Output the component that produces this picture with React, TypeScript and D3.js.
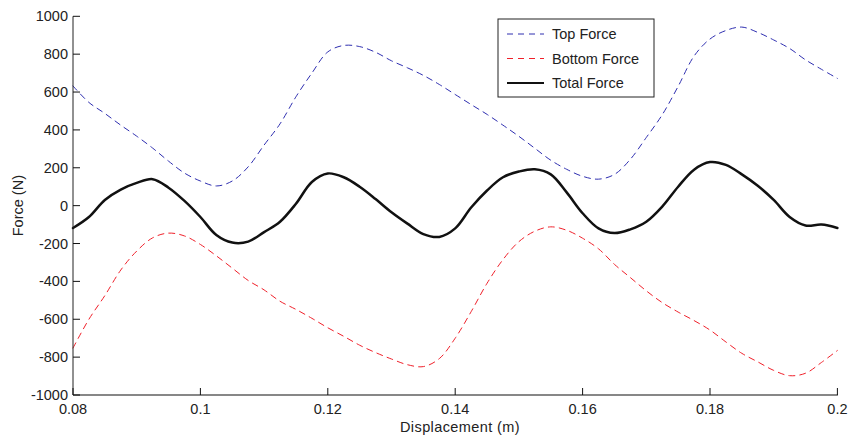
import React from "react";
import * as d3 from "d3";

const displacement = [
  0.08, 0.0825, 0.085, 0.0875, 0.09, 0.0925, 0.095, 0.0975, 0.1, 0.1025, 0.105, 0.1075,
  0.11, 0.1125, 0.115, 0.1175, 0.12, 0.1225, 0.125, 0.1275, 0.13, 0.1325, 0.135, 0.1375,
  0.14, 0.1425, 0.145, 0.1475, 0.15, 0.1525, 0.155, 0.1575, 0.16, 0.1625, 0.165, 0.1675,
  0.17, 0.1725, 0.175, 0.1775, 0.18, 0.1825, 0.185, 0.1875, 0.19, 0.1925, 0.195, 0.1975, 0.2,
];

const topForce = [
  632, 545, 487, 425, 367, 304, 235, 172, 130, 104, 130, 205,
  320, 432, 575, 700, 812, 846, 840, 810, 765, 728, 688, 640,
  587, 534, 482, 425, 366, 303, 240, 192, 155, 140, 165, 245,
  360, 480, 630, 790, 880, 925, 943, 915, 875, 830, 770, 720, 672,
];

const bottomForce = [
  -752, -600, -475, -340, -240, -170, -145, -160, -205, -265, -330, -395,
  -445, -505, -548, -595, -645, -690, -737, -776, -810, -840, -850, -808,
  -700, -560, -410, -285, -190, -135, -112, -130, -172, -228, -310, -380,
  -450, -512, -562, -607, -657, -720, -780, -825, -870, -898, -885, -828, -765,
];

const totalForce = [
  -118, -60, 30, 85, 120, 140, 95, 25, -60, -155, -195, -190,
  -140, -85, 10, 125, 170, 150, 100, 35, -35, -95, -150, -165,
  -120, -10, 80, 150, 180, 192, 165, 70, -40, -120, -145, -125,
  -85, -5, 100, 190, 230, 215, 165, 105, 30, -60, -105, -100, -118,
];

const xTicks = [0.08, 0.1, 0.12, 0.14, 0.16, 0.18, 0.2];
const yTicks = [-1000, -800, -600, -400, -200, 0, 200, 400, 600, 800, 1000];
const seriesNames = ["Top Force", "Bottom Force", "Total Force"];

export default function App() {
  const W = 851, H = 435;
  const left = 73, right = 837.4, top = 16.3, bottom = 395;
  const x = d3.scaleLinear().domain([0.08, 0.2]).range([left, right]);
  const y = d3.scaleLinear().domain([-1000, 1000]).range([bottom, top]);
  const line = (vals: number[]) =>
    d3.line<number>()
      .x((_, i) => x(displacement[i]))
      .y((v) => y(v))
      .curve(d3.curveCatmullRom.alpha(0.5))(vals) || "";

  const font = "'Liberation Sans', Arial, Helvetica, sans-serif";
  const fs = 14.5;
  const styles = [
    { color: "#2e2eb0", width: 1, dash: "6,5" },
    { color: "#f0202a", width: 1, dash: "6,5" },
    { color: "#111", width: 2.5, dash: undefined as string | undefined },
  ];
  const data = [topForce, bottomForce, totalForce];
  const legX = 498, legY = 19, legW = 156, legH = 78;

  return (
    <svg width={W} height={H} style={{ position: "absolute", left: 0, top: 0, background: "#fff" }} fontFamily={font}>
      <rect x={0} y={0} width={W} height={H} fill="#fff" />
      {data.map((vals, i) => (
        <path key={i} d={line(vals)} fill="none" stroke={styles[i].color} strokeWidth={styles[i].width}
          strokeDasharray={styles[i].dash} strokeLinejoin="round" strokeLinecap="round" />
      ))}
      <line x1={left} x2={left} y1={top} y2={bottom} stroke="#222" strokeWidth={1} />
      <line x1={left} x2={right + 0.5} y1={bottom} y2={bottom} stroke="#111" strokeWidth={1.2} />
      {xTicks.map((t) => (
        <g key={t}>
          <line x1={x(t)} x2={x(t)} y1={bottom} y2={bottom - 7} stroke="#111" strokeWidth={1} />
          <text x={x(t)} y={413.5} textAnchor="middle" fontSize={fs} fill="#222">{String(+t.toFixed(2))}</text>
        </g>
      ))}
      {yTicks.map((t) => (
        <g key={t}>
          <line x1={left} x2={left + 7} y1={y(t)} y2={y(t)} stroke="#111" strokeWidth={1} />
          <text x={68} y={y(t) + 5} textAnchor="end" fontSize={fs} fill="#222">{String(t)}</text>
        </g>
      ))}
      <text x={460} y={432} textAnchor="middle" fontSize={fs} letterSpacing={0.4} fill="#222">Displacement (m)</text>
      <text transform={`translate(23,${(top + bottom) / 2}) rotate(-90)`} textAnchor="middle" fontSize={fs} fill="#222">Force (N)</text>
      <rect x={legX} y={legY} width={legW} height={legH} fill="#fff" stroke="#222" strokeWidth={1} />
      {seriesNames.map((n, i) => {
        const cy = 34 + i * 24.5;
        return (
          <g key={n}>
            <line x1={507} x2={544} y1={cy} y2={cy} stroke={styles[i].color} strokeWidth={styles[i].width === 1 ? 1 : 2.2}
              strokeDasharray={styles[i].dash} />
            <text x={552} y={cy + 5} fontSize={fs} fill="#222">{n}</text>
          </g>
        );
      })}
    </svg>
  );
}
